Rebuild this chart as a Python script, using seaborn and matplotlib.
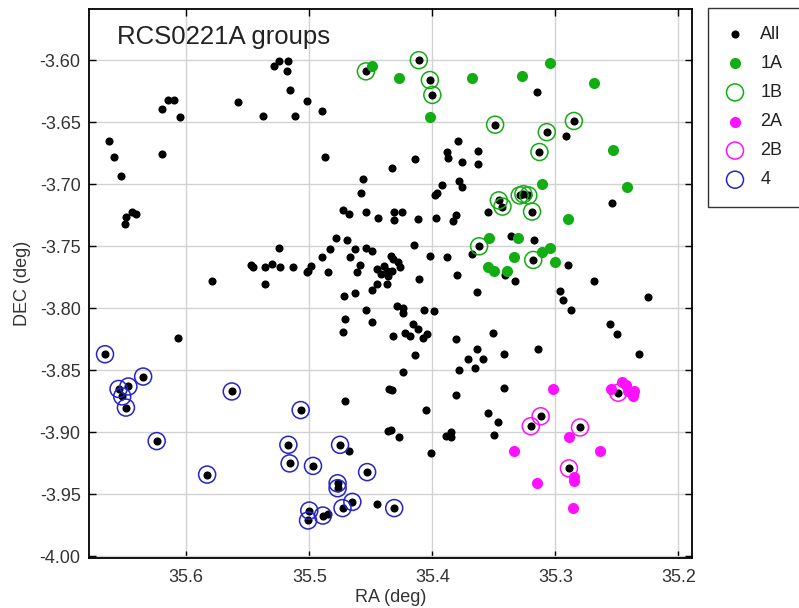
import matplotlib
matplotlib.use("Agg")
import matplotlib.pyplot as plt
import seaborn as sns
import pandas as pd

# ---- data (RA, DEC in degrees) ----
all_ra = [35.615, 35.610, 35.620, 35.605, 35.663, 35.659, 35.653, 35.644, 35.641, 35.649,
          35.650, 35.620, 35.558, 35.579, 35.607, 35.666, 35.635, 35.655, 35.647, 35.652,
          35.649, 35.624, 35.583, 35.563, 35.529, 35.525, 35.517, 35.518, 35.516, 35.502,
          35.512, 35.538, 35.490, 35.487, 35.454, 35.433, 35.456, 35.458, 35.473, 35.468,
          35.454, 35.444, 35.478, 35.469, 35.525, 35.483, 35.463, 35.454, 35.449, 35.490,
          35.467, 35.547, 35.546, 35.536, 35.530, 35.524, 35.513, 35.499, 35.501, 35.502,
          35.485, 35.459, 35.461, 35.445, 35.442, 35.437, 35.436, 35.536, 35.445, 35.437,
          35.449, 35.463, 35.472, 35.434, 35.432, 35.428, 35.426, 35.433, 35.439, 35.411,
          35.402, 35.400, 35.315, 35.349, 35.307, 35.313, 35.285, 35.291, 35.379, 35.363,
          35.388, 35.387, 35.376, 35.363, 35.414, 35.392, 35.378, 35.376, 35.396, 35.398,
          35.346, 35.343, 35.329, 35.326, 35.322, 35.319, 35.355, 35.425, 35.431, 35.431,
          35.412, 35.397, 35.381, 35.383, 35.362, 35.336, 35.317, 35.415, 35.402, 35.388,
          35.368, 35.318, 35.380, 35.333, 35.411, 35.254, 35.290, 35.269, 35.341, 35.364,
          35.429, 35.424, 35.424, 35.407, 35.399, 35.416, 35.412, 35.422, 35.418, 35.432,
          35.408, 35.404, 35.414, 35.381, 35.351, 35.364, 35.371, 35.359, 35.365, 35.378,
          35.342, 35.314, 35.424, 35.433, 35.381, 35.342, 35.405, 35.355, 35.347, 35.350,
          35.434, 35.427, 35.389, 35.385, 35.385, 35.401, 35.471, 35.454, 35.449, 35.473,
          35.435, 35.471, 35.436, 35.507, 35.517, 35.516, 35.497, 35.475, 35.468, 35.453,
          35.477, 35.477, 35.465, 35.473, 35.445, 35.500, 35.501, 35.489, 35.485, 35.431,
          35.296, 35.294, 35.287, 35.225, 35.256, 35.250, 35.232, 35.312, 35.320, 35.280,
          35.289, 35.249]
all_dec = [-3.632, -3.632, -3.639, -3.646, -3.665, -3.678, -3.693, -3.722, -3.724, -3.726,
           -3.732, -3.676, -3.634, -3.778, -3.824, -3.837, -3.855, -3.865, -3.863, -3.871,
           -3.880, -3.907, -3.934, -3.867, -3.605, -3.601, -3.601, -3.609, -3.624, -3.633,
           -3.645, -3.645, -3.641, -3.678, -3.609, -3.687, -3.696, -3.707, -3.721, -3.724,
           -3.722, -3.727, -3.743, -3.745, -3.751, -3.752, -3.752, -3.751, -3.754, -3.759,
           -3.759, -3.765, -3.767, -3.767, -3.764, -3.767, -3.767, -3.766, -3.770, -3.771,
           -3.771, -3.765, -3.771, -3.768, -3.772, -3.770, -3.774, -3.780, -3.780, -3.780,
           -3.785, -3.788, -3.790, -3.758, -3.760, -3.763, -3.767, -3.770, -3.766, -3.600,
           -3.616, -3.628, -3.626, -3.652, -3.658, -3.674, -3.649, -3.661, -3.665, -3.673,
           -3.674, -3.679, -3.682, -3.684, -3.680, -3.701, -3.697, -3.702, -3.707, -3.709,
           -3.713, -3.718, -3.709, -3.708, -3.709, -3.722, -3.722, -3.722, -3.722, -3.729,
           -3.728, -3.727, -3.725, -3.730, -3.750, -3.742, -3.745, -3.749, -3.758, -3.759,
           -3.756, -3.761, -3.773, -3.778, -3.776, -3.715, -3.765, -3.778, -3.773, -3.787,
           -3.798, -3.800, -3.804, -3.801, -3.802, -3.813, -3.817, -3.820, -3.822, -3.822,
           -3.824, -3.821, -3.838, -3.825, -3.820, -3.833, -3.841, -3.841, -3.848, -3.850,
           -3.837, -3.833, -3.851, -3.866, -3.870, -3.864, -3.882, -3.884, -3.892, -3.902,
           -3.898, -3.904, -3.903, -3.900, -3.904, -3.917, -3.809, -3.801, -3.811, -3.819,
           -3.865, -3.875, -3.899, -3.882, -3.910, -3.925, -3.927, -3.910, -3.915, -3.932,
           -3.941, -3.945, -3.956, -3.961, -3.958, -3.963, -3.971, -3.967, -3.966, -3.961,
           -3.786, -3.793, -3.801, -3.791, -3.813, -3.821, -3.837, -3.887, -3.895, -3.896,
           -3.929, -3.868]

g1a_ra = [35.449, 35.427, 35.368, 35.327, 35.304, 35.269, 35.402, 35.253, 35.311, 35.242,
          35.290, 35.354, 35.330, 35.304, 35.311, 35.334, 35.300, 35.355, 35.350, 35.339]
g1a_dec = [-3.605, -3.614, -3.614, -3.613, -3.602, -3.618, -3.646, -3.672, -3.700, -3.702,
           -3.728, -3.743, -3.743, -3.751, -3.755, -3.759, -3.763, -3.767, -3.770, -3.770]

g1b_ra = [35.454, 35.411, 35.402, 35.400, 35.349, 35.307, 35.313, 35.285, 35.346, 35.343,
          35.329, 35.326, 35.322, 35.319, 35.362, 35.318]
g1b_dec = [-3.609, -3.600, -3.616, -3.628, -3.652, -3.658, -3.674, -3.649, -3.713, -3.718,
           -3.709, -3.708, -3.709, -3.722, -3.750, -3.761]

g2a_ra = [35.302, 35.289, 35.264, 35.334, 35.285, 35.285, 35.315, 35.286, 35.255, 35.246,
          35.243, 35.241, 35.236, 35.237]
g2a_dec = [-3.865, -3.904, -3.915, -3.915, -3.936, -3.939, -3.941, -3.961, -3.865, -3.859,
           -3.862, -3.867, -3.867, -3.871]

g2b_ra = [35.312, 35.320, 35.280, 35.289, 35.249]
g2b_dec = [-3.887, -3.895, -3.896, -3.929, -3.868]

g4_ra = [35.666, 35.635, 35.655, 35.647, 35.652, 35.649, 35.624, 35.583, 35.563, 35.507,
         35.517, 35.516, 35.497, 35.475, 35.453, 35.477, 35.477, 35.465, 35.473, 35.500,
         35.501, 35.489, 35.431]
g4_dec = [-3.837, -3.855, -3.865, -3.863, -3.871, -3.880, -3.907, -3.934, -3.867, -3.882,
          -3.910, -3.925, -3.927, -3.910, -3.932, -3.941, -3.945, -3.956, -3.961, -3.963,
          -3.971, -3.967, -3.961]

x_ticks = [35.6, 35.5, 35.4, 35.3, 35.2]
y_ticks = [-4.00, -3.95, -3.90, -3.85, -3.80, -3.75, -3.70, -3.65, -3.60]

# ---- style ----
sns.set_theme(style="white")
plt.rcParams['font.family'] = ['Liberation Sans', 'DejaVu Sans']

fig = plt.figure(figsize=(7.99, 6.08), dpi=100)
ax = fig.add_axes([0.1114, 0.0827, 0.7547, 0.902])

GREEN = "#12ad12"
MAG = "#ff10ff"
BLUE = "#2424c8"

def df(ra, dec):
    return pd.DataFrame({"RA": ra, "DEC": dec})

sns.scatterplot(data=df(all_ra, all_dec), x="RA", y="DEC", ax=ax, color="black",
                s=34, linewidth=0, marker="o", label="All", zorder=3)
sns.scatterplot(data=df(g1a_ra, g1a_dec), x="RA", y="DEC", ax=ax, color=GREEN,
                s=64, linewidth=0, marker="o", label="1A", zorder=4)
sns.scatterplot(data=df(g1b_ra, g1b_dec), x="RA", y="DEC", ax=ax, marker="o",
                s=150, facecolors="none", edgecolors=GREEN, linewidth=1.1,
                label="1B", zorder=5)
sns.scatterplot(data=df(g2a_ra, g2a_dec), x="RA", y="DEC", ax=ax, color=MAG,
                s=64, linewidth=0, marker="o", label="2A", zorder=4)
sns.scatterplot(data=df(g2b_ra, g2b_dec), x="RA", y="DEC", ax=ax, marker="o",
                s=150, facecolors="none", edgecolors=MAG, linewidth=1.1,
                label="2B", zorder=5)
sns.scatterplot(data=df(g4_ra, g4_dec), x="RA", y="DEC", ax=ax, marker="o",
                s=150, facecolors="none", edgecolors=BLUE, linewidth=1.1,
                label="4", zorder=5)

ax.set_xlim(35.679, 35.189)
ax.set_ylim(-4.001, -3.559)
ax.set_xticks(x_ticks)
ax.set_xticklabels([f"{v:.1f}" for v in x_ticks])
ax.set_yticks(y_ticks)
ax.set_yticklabels([f"{v:.2f}" for v in y_ticks])

ax.grid(True, color="#d2d2d2", linewidth=1.0, zorder=0)
ax.set_axisbelow(True)
for sp in ax.spines.values():
    sp.set_color("black")
    sp.set_linewidth(1.3)
ax.tick_params(axis="both", direction="in", length=5, width=1.0, colors="black",
               labelsize=13, top=True, right=True, bottom=True, left=True)
ax.tick_params(axis="x", pad=8)
ax.tick_params(axis="y", pad=6)
for lab in ax.get_xticklabels() + ax.get_yticklabels():
    lab.set_color("#333333")

ax.set_xlabel("RA (deg)", fontsize=13, color="#333333", labelpad=2)
ax.set_ylabel("DEC (deg)", fontsize=13, color="#333333", labelpad=6)

ax.text(0.046, 0.949, "RCS0221A groups", transform=ax.transAxes, fontsize=18.5,
        color="#222222", va="center", ha="left")

handles, labels = ax.get_legend_handles_labels()
if ax.legend_:
    ax.legend_.remove()
leg = fig.legend(handles, labels, loc="upper left", bbox_to_anchor=(0.886, 0.987),
                 frameon=True, fancybox=False, edgecolor="black", fontsize=13,
                 labelspacing=0.67, handletextpad=0.9, borderpad=1.0,
                 handlelength=1.0, borderaxespad=0)
leg.get_frame().set_linewidth(1.0)
for t in leg.get_texts():
    t.set_color("#222222")

fig.savefig("out.png", dpi=100)
